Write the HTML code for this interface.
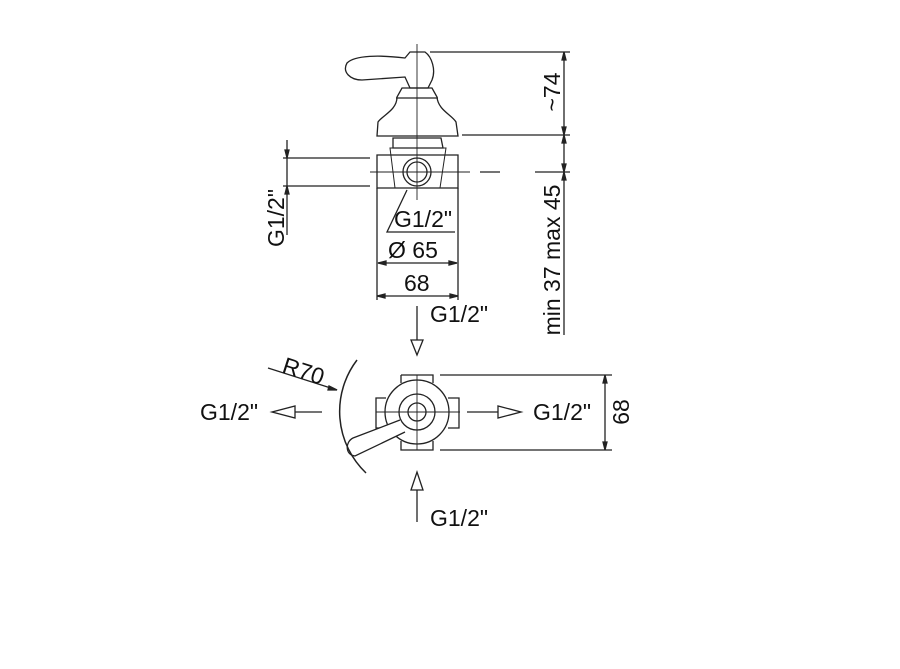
<!DOCTYPE html>
<html><head><style>body{margin:0;background:#fff}svg{display:block}text{font-family:"Liberation Sans",sans-serif;font-size:23px;fill:#111}</style></head><body>
<svg width="900" height="669" viewBox="0 0 900 669" fill="none" stroke="#222" stroke-width="1.3">
<path d="M405 58 C380 55 355 55 347 63 C342 72 350 80 362 80 L405 77 L410 88 L428 88 L432 80 C436 70 432 57 425 52 L410 52 Z"/>
<line x1="417" y1="44" x2="417" y2="200" stroke-width="0.9"/>
<path d="M402 88 L432 88 L437 97 C438 110 452 115 456 122 L458 136 L377 136 L378 122 C383 115 397 110 397 97 Z"/>
<line x1="396" y1="98" x2="438" y2="98"/>
<path d="M393 138 L441 138 L443 148 L393 148 Z"/>
<path d="M377 155 L458 155 L458 188 L377 188 Z"/>
<path d="M390 148 L446 148 L440 188 L395 188 Z" stroke-width="1"/>
<circle cx="417" cy="172" r="14"/><circle cx="417" cy="172" r="10"/>
<line x1="370" y1="172" x2="470" y2="172" stroke-width="0.9"/>
<line x1="480" y1="172" x2="500" y2="172"/>
<line x1="535" y1="172" x2="570" y2="172"/>
<line x1="377" y1="188" x2="377" y2="300"/><line x1="458" y1="188" x2="458" y2="300"/>
<line x1="430" y1="52" x2="570" y2="52"/><line x1="462" y1="135" x2="570" y2="135"/>
<line x1="564" y1="52" x2="564" y2="335"/>
<path d="M564 52 l-2 8 l4 0 z M564 135 l-2 -8 l4 0 z M564 135 l-2 8 l4 0 z M564 172 l-2 -8 l4 0 z M564 172 l-2 8 l4 0 z" fill="#222"/>
<text transform="translate(560,92) rotate(-90)" text-anchor="middle" stroke="none">~74</text>
<text transform="translate(560,260) rotate(-90)" text-anchor="middle" stroke="none">min 37 max 45</text>
<line x1="283" y1="158" x2="370" y2="158"/><line x1="283" y1="186" x2="370" y2="186"/>
<line x1="287" y1="140" x2="287" y2="235"/>
<path d="M287 158 l-2 -8 l4 0 z M287 186 l-2 8 l4 0 z" fill="#222"/>
<text transform="translate(284,218) rotate(-90)" text-anchor="middle" stroke="none">G1/2"</text>
<polyline points="407,190 387,232 455,232"/>
<text x="394" y="227" stroke="none">G1/2"</text>
<line x1="378" y1="263" x2="457" y2="263"/>
<path d="M378 263 l8 -2 l0 4 z M457 263 l-8 -2 l0 4 z" fill="#222"/>
<text x="388" y="258" stroke="none">Ø 65</text>
<line x1="377" y1="296" x2="458" y2="296"/>
<path d="M377 296 l8 -2 l0 4 z M458 296 l-8 -2 l0 4 z" fill="#222"/>
<text x="404" y="291" stroke="none">68</text>
<text x="430" y="322" stroke="none">G1/2"</text>
<line x1="417" y1="306" x2="417" y2="340"/><path d="M411 340 L423 340 L417 355 Z"/>
<path d="M401 375 L433 375 L433 383 M401 383 L401 375 M401 441 L401 450 L433 450 L433 441"/>
<path d="M386 398 L376 398 L376 428 L386 428 M448 398 L459 398 L459 428 L448 428"/>
<circle cx="417" cy="412" r="32"/>
<circle cx="417" cy="412" r="18"/><circle cx="417" cy="412" r="9"/>
<line x1="376" y1="412" x2="460" y2="412" stroke-width="0.9"/><line x1="417" y1="375" x2="417" y2="450" stroke-width="0.9"/>
<path d="M400 420 L353 438 C345 442 345 455 355 456 L405 432" fill="#fff"/>
<path d="M357 360 A85 85 0 0 0 366 473" stroke-width="1.5"/>
<line x1="268" y1="368" x2="337" y2="390"/><path d="M337 390 l-8 -4 l-1 4 z" fill="#222"/>
<text transform="translate(281,372) rotate(18)" stroke="none">R70</text>
<line x1="295" y1="412" x2="322" y2="412"/><path d="M295 406 L295 418 L272 412 Z"/>
<line x1="467" y1="412" x2="498" y2="412"/><path d="M498 406 L498 418 L521 412 Z"/>
<text x="200" y="420" stroke="none">G1/2"</text>
<text x="533" y="420" stroke="none">G1/2"</text>
<line x1="440" y1="375" x2="612" y2="375"/><line x1="440" y1="450" x2="612" y2="450"/>
<line x1="605" y1="375" x2="605" y2="450"/>
<path d="M605 375 l-2 8 l4 0 z M605 450 l-2 -8 l4 0 z" fill="#222"/>
<text transform="translate(629,412) rotate(-90)" text-anchor="middle" stroke="none">68</text>
<line x1="417" y1="490" x2="417" y2="522"/><path d="M411 490 L423 490 L417 472 Z"/>
<text x="430" y="526" stroke="none">G1/2"</text>
</svg>
</body></html>
